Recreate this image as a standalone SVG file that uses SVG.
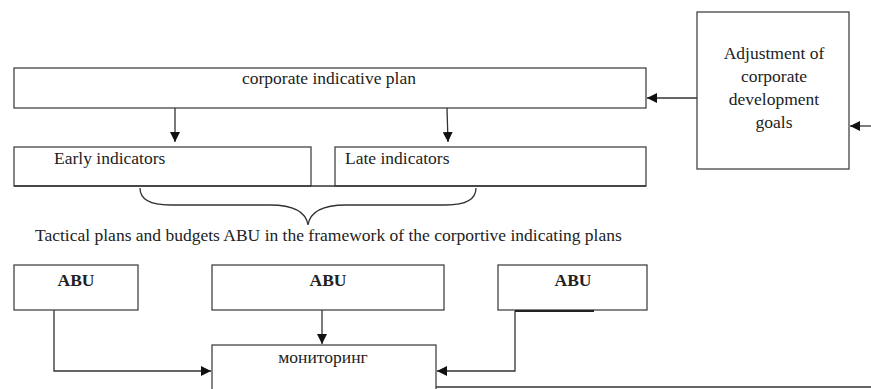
<svg xmlns="http://www.w3.org/2000/svg" width="871" height="389" viewBox="0 0 871 389">
<style>
.box{fill:#fff;stroke:#444;stroke-width:1.3}
.ln{fill:none;stroke:#333;stroke-width:1.3}
text{font-family:"Liberation Serif","Times New Roman","DejaVu Serif",serif;font-size:17.5px;fill:#222}
.b{font-weight:bold;text-anchor:middle}
.c{text-anchor:middle}
</style>
<defs>
<marker id="ah" viewBox="0 0 10 10" refX="10" refY="5" markerWidth="10" markerHeight="10" markerUnits="userSpaceOnUse" orient="auto">
<path d="M0,0 L10,5 L0,10 z" fill="#111"/>
</marker>
</defs>
<rect width="871" height="389" fill="#fff"/>
<g id="plan"><rect class="box" x="14" y="68" width="632" height="40"/><text x="242" y="84">corporate indicative plan</text></g>
<g id="adjust"><rect class="box" x="697" y="12" width="152" height="157"/>
<text class="c" x="774" y="59">Adjustment of</text>
<text class="c" x="774" y="82">corporate</text>
<text class="c" x="774" y="105">development</text>
<text class="c" x="774" y="128">goals</text></g>
<g id="early"><rect class="box" x="14" y="147" width="297" height="39"/><text x="54" y="164">Early indicators</text></g>
<g id="late"><rect class="box" x="335" y="147" width="311" height="39"/><text x="345" y="164">Late indicators</text></g>
<g id="tactical"><path class="ln" d="M140,188 C140,200 150,205 170,205 L270,205 C295,205 306,212 308,225 C310,212 321,205 346,205 L446,205 C466,205 476,200 476,188"/>
<text x="35" y="241">Tactical plans and budgets ABU in the framework of the corportive indicating plans</text></g>
<g id="abu1"><rect class="box" x="14" y="265" width="124" height="45"/><text class="b" x="76" y="286">ABU</text></g>
<g id="abu2"><rect class="box" x="212" y="265" width="232" height="45"/><text class="b" x="328" y="286">ABU</text></g>
<g id="abu3"><rect class="box" x="498" y="265" width="149" height="45"/><text class="b" x="573" y="286">ABU</text></g>
<g id="monitor"><rect class="box" x="212" y="345" width="224" height="60"/><text class="c" x="323" y="363">мониторинг</text></g>
<g id="connectors">
<line class="ln" x1="14" y1="186" x2="646" y2="186"/>
<line class="ln" x1="175" y1="108" x2="175" y2="142" marker-end="url(#ah)"/>
<line class="ln" x1="447" y1="108" x2="448" y2="142" marker-end="url(#ah)"/>
<line class="ln" x1="697" y1="98" x2="647" y2="98" marker-end="url(#ah)"/>
<line class="ln" x1="871" y1="126" x2="850" y2="126" marker-end="url(#ah)"/>
<polyline class="ln" points="54,310 54,371 211,371" marker-end="url(#ah)"/>
<line class="ln" x1="322" y1="310" x2="322" y2="344" marker-end="url(#ah)"/>
<polyline class="ln" points="515,311 515,371 437,371" marker-end="url(#ah)"/>
<line x1="515" y1="311" x2="594" y2="311" stroke="#222" stroke-width="2.2"/>
<line class="ln" x1="436" y1="387" x2="871" y2="387"/>
</g>
</svg>
